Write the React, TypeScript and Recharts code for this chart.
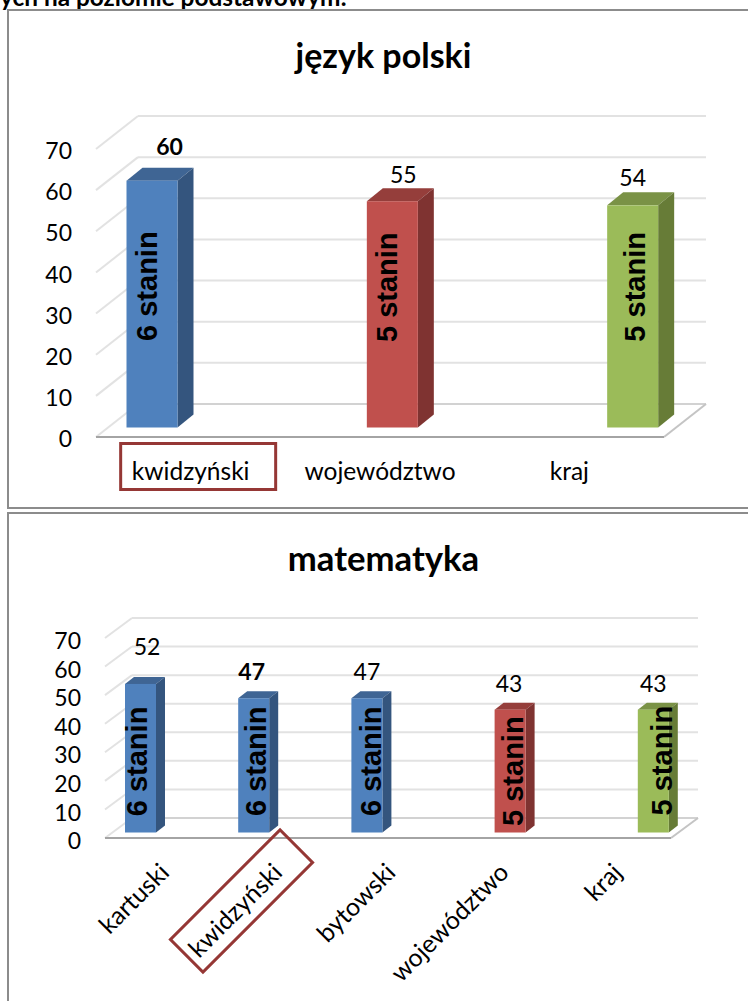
import { BarChart, Bar, XAxis, YAxis, CartesianGrid } from 'recharts';

const LABEL_FONT = 'Lato, "Open Sans", sans-serif';
const BAR_FONT = '"Liberation Sans", Arial, sans-serif';

// język polski
const polskiCategories = ['kwidzyński', 'województwo', 'kraj'];
const polskiBlue = [60, null, null];
const polskiRed = [null, 55, null];
const polskiGreen = [null, null, 54];
const polskiStanin = ['6 stanin', '5 stanin', '5 stanin'];
const polskiValueShift = [[17.5, -35], [11, -27], [0, -28]];
const polskiStaninShift = [[-4.5, 105.5], [-5, 86], [2.5, 81.5]];

// matematyka
const matCategories = ['kartuski', 'kwidzyński', 'bytowski', 'województwo', 'kraj'];
const matBlue = [52, 47, 47, null, null];
const matRed = [null, null, null, 43, null];
const matGreen = [null, null, null, null, 43];
const matStanin = ['6 stanin', '6 stanin', '6 stanin', '5 stanin', '5 stanin'];
const matValueShift = [[6.5, -38], [-2, -27], [0, -27], [-1, -26.5], [0, -26.5]];
const matStaninShift = [[-3, 77.5], [2.5, 63], [4.5, 63], [3, 61.5], [8.5, 51]];

const yTicks = [0, 10, 20, 30, 40, 50, 60, 70];
const highlighted = 'kwidzyński';

const COLORS = {
  blue: { front: '#4f81bd', side: '#34557e', top: '#3f6594' },
  red: { front: '#c0504d', side: '#7f3331', top: '#953e3b' },
  green: { front: '#9bbb59', side: '#677c37', top: '#7a9246' },
};

type ChartProps = {
  top: number;
  height: number;
  title: string;
  titleY: number;
  titleSize: number;
  categories: string[];
  blue: (number | null)[];
  red: (number | null)[];
  green: (number | null)[];
  stanin: string[];
  valueShift: number[][];
  staninShift: number[][];
  plotTop: number;
  plotLeft: number;
  plotRight: number;
  axisHeight: number;
  wall: [number, number]; // offset of the back wall
  inset: [number, number]; // where the bars stand on the floor
  depth: [number, number]; // bar depth
  barSize: number;
  barGap: number;
  rotated: boolean;
  boxCenter: [number, number];
  yTickNudge: number;
};

function DepthChart(p: ChartProps) {
  const data = p.categories.map((name, i) => ({
    name,
    blue: p.blue[i],
    red: p.red[i],
    green: p.green[i],
  }));

  const floorY = p.height - 13 - p.axisHeight;

  const gridLine = (line: any) => {
    const { x1, x2, y1, index } = line;
    const isFloor = y1 === floorY;
    return (
      <g key={`grid-${index}-${y1}`}>
        <line x1={x1} y1={y1} x2={x1 + p.wall[0]} y2={y1 + p.wall[1]} stroke="#e2e2e2" strokeWidth={2} />
        <line
          x1={x1 + p.wall[0]}
          y1={y1 + p.wall[1]}
          x2={x2 + p.wall[0]}
          y2={y1 + p.wall[1]}
          stroke={isFloor ? '#d2d2d2' : '#e2e2e2'}
          strokeWidth={2}
        />
        {isFloor && (
          <line x1={x2} y1={y1} x2={x2 + p.wall[0]} y2={y1 + p.wall[1]} stroke="#c4c4c4" strokeWidth={2} />
        )}
      </g>
    );
  };

  const barShape = (fill: { front: string; side: string; top: string }) => (bar: any) => {
    const { x, y, width, height, payload, value } = bar;
    if (value == null || !height) return <g />;
    const index = p.categories.indexOf(payload.name);
    const left = x + p.inset[0];
    const right = left + width;
    const top = y + p.inset[1];
    const bottom = top + height;
    const [dx, dy] = p.depth;
    const cx = left + width / 2;
    const bold = payload.name === highlighted;
    const sx = cx + p.staninShift[index][0];
    const sy = top + p.staninShift[index][1];
    return (
      <g>
        <polygon
          points={`${left},${top} ${left + dx},${top + dy} ${right + dx},${top + dy} ${right},${top}`}
          fill={fill.top}
        />
        <polygon
          points={`${right},${top} ${right + dx},${top + dy} ${right + dx},${bottom + dy} ${right},${bottom}`}
          fill={fill.side}
        />
        <rect x={left} y={top} width={width} height={height} fill={fill.front} />
        <text
          x={cx + p.valueShift[index][0]}
          y={top + p.valueShift[index][1]}
          textAnchor="middle"
          dominantBaseline="central"
          fontFamily={LABEL_FONT}
          fontSize={23}
          fontWeight={bold ? 700 : 400}
          fill="#000"
        >
          {value}
        </text>
        <text
          x={sx}
          y={sy}
          transform={`rotate(-90 ${sx} ${sy})`}
          textAnchor="middle"
          dominantBaseline="central"
          fontFamily={BAR_FONT}
          fontSize={29}
          fontWeight={700}
          fill="#000"
        >
          {p.stanin[index]}
        </text>
      </g>
    );
  };

  const categoryTick = (tick: any) => {
    const { x, payload } = tick;
    const isBoxed = payload.value === highlighted;
    if (p.rotated) {
      return (
        <g transform={`translate(${x},${floorY})`}>
          {isBoxed && (
            <rect
              x={-77.5}
              y={-23}
              width={155}
              height={46}
              transform={`translate(${p.boxCenter[0]},${p.boxCenter[1]}) rotate(-45)`}
              fill="none"
              stroke="#953735"
              strokeWidth={3}
            />
          )}
          <text
            x={2}
            y={29}
            transform="rotate(-45 2 29)"
            textAnchor="end"
            dominantBaseline="central"
            fontFamily={LABEL_FONT}
            fontSize={25}
            fill="#000"
          >
            {payload.value}
          </text>
        </g>
      );
    }
    return (
      <g transform={`translate(${x},${floorY})`}>
        {isBoxed && (
          <rect
            x={p.boxCenter[0] - 77.5}
            y={p.boxCenter[1] - 23}
            width={155}
            height={46}
            fill="none"
            stroke="#953735"
            strokeWidth={3}
          />
        )}
        <text x={0} y={33} textAnchor="middle" dominantBaseline="central" fontFamily={LABEL_FONT} fontSize={24.5} fill="#000">
          {payload.value}
        </text>
      </g>
    );
  };

  const valueTick = (tick: any) => (
    <text
      x={tick.x}
      y={tick.y + p.yTickNudge}
      dy="0.355em"
      textAnchor="end"
      fontFamily={LABEL_FONT}
      fontSize={23}
      fill="#000"
    >
      {tick.payload.value}
    </text>
  );

  return (
    <div style={{ position: 'absolute', left: 0, top: p.top, width: 748, height: p.height }}>
      <div
        style={{
          position: 'absolute',
          left: 0,
          right: 0,
          top: p.titleY - 25,
          height: 50,
          lineHeight: '50px',
          paddingLeft: 19,
          textAlign: 'center',
          fontFamily: LABEL_FONT,
          fontWeight: 700,
          fontSize: p.titleSize,
          color: '#000',
          boxSizing: 'border-box',
        }}
      >
        {p.title}
      </div>
      <BarChart
        width={748}
        height={p.height}
        data={data}
        barSize={p.barSize}
        barGap={p.barGap}
        margin={{ top: p.plotTop, right: 748 - p.plotRight, bottom: 13, left: 6 }}
        style={{ position: 'absolute', left: 0, top: 0 }}
      >
        <CartesianGrid vertical={false} horizontal={gridLine} />
        <XAxis
          dataKey="name"
          height={p.axisHeight}
          interval={0}
          tickLine={false}
          axisLine={{ stroke: '#a4a4a4', strokeWidth: 2 }}
          tick={categoryTick}
        />
        <YAxis
          width={p.plotLeft - 6}
          domain={[0, 70]}
          ticks={yTicks}
          interval={0}
          axisLine={false}
          tickLine={false}
          tickSize={0}
          tickMargin={24}
          tick={valueTick}
        />
        <Bar dataKey="blue" isAnimationActive={false} shape={barShape(COLORS.blue)} />
        <Bar dataKey="red" isAnimationActive={false} shape={barShape(COLORS.red)} />
        <Bar dataKey="green" isAnimationActive={false} shape={barShape(COLORS.green)} />
      </BarChart>
    </div>
  );
}

function Frame({ top, height, closed }: { top: number; height: number; closed: boolean }) {
  return (
    <div
      style={{
        position: 'absolute',
        left: 7,
        top,
        width: 741,
        height,
        boxSizing: 'border-box',
        borderTop: '2px solid #8c8c8c',
        borderLeft: '2px solid #8c8c8c',
        borderBottom: closed ? '2px solid #8c8c8c' : 'none',
      }}
    />
  );
}

export default function App() {
  return (
    <div style={{ position: 'absolute', left: 0, top: 0, width: 748, height: 1001, overflow: 'hidden', background: '#fff' }}>
      <div
        style={{
          position: 'absolute',
          left: 0,
          top: -17,
          width: 748,
          whiteSpace: 'nowrap',
          fontFamily: LABEL_FONT,
          fontWeight: 700,
          fontSize: 24.4,
          lineHeight: '28px',
          color: '#000',
        }}
      >
        ych na poziomie podstawowym:
      </div>
      <Frame top={9} height={500} closed />
      <Frame top={512} height={489} closed={false} />
      <DepthChart
        top={0}
        height={510}
        title="język polski"
        titleY={55}
        titleSize={34}
        categories={polskiCategories}
        blue={polskiBlue}
        red={polskiRed}
        green={polskiGreen}
        stanin={polskiStanin}
        valueShift={polskiValueShift}
        staninShift={polskiStaninShift}
        plotTop={149}
        plotLeft={96}
        plotRight={664}
        axisHeight={60}
        wall={[42, -33]}
        inset={[12.5, -9.5]}
        depth={[16, -13]}
        barSize={51}
        barGap={0}
        rotated={false}
        boxCenter={[7.5, 29.5]}
        yTickNudge={2}
      />
      <DepthChart
        top={511}
        height={490}
        title="matematyka"
        titleY={47}
        titleSize={34.7}
        categories={matCategories}
        blue={matBlue}
        red={matRed}
        green={matGreen}
        stanin={matStanin}
        valueShift={matValueShift}
        staninShift={matStaninShift}
        plotTop={127}
        plotLeft={105}
        plotRight={671}
        axisHeight={150}
        wall={[27, -20]}
        inset={[9, -5.5]}
        depth={[9, -7]}
        barSize={31}
        barGap={-1}
        rotated={true}
        boxCenter={[-33.3, 63]}
        yTickNudge={3}
      />
    </div>
  );
}
